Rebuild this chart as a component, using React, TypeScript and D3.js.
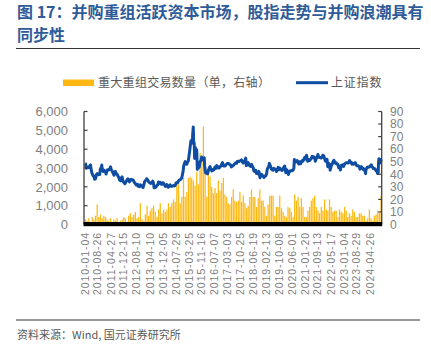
import React from "react";
import * as d3 from "d3";

// ---- data ----
const xTickLabels = [
  "2010-01-04","2010-08-26","2011-04-27","2011-12-15","2012-08-10","2013-04-10",
  "2013-12-05","2014-07-29","2015-03-25","2015-11-16","2016-07-07","2017-03-03",
  "2017-10-25","2018-06-19","2019-02-13","2019-10-08","2020-06-01","2021-01-20",
  "2021-09-13","2022-05-17","2023-01-04","2023-08-29","2024-04-26",
];
const leftTicks = [0, 1000, 2000, 3000, 4000, 5000, 6000];
const rightTicks = [0, 10, 20, 30, 40, 50, 60, 70, 80, 90];

// monthly count of major restructuring deals, from 2010-01
const dealStartMonth = "2010-01";
const dealCounts = [
  4, 3, 5, 2, 6, 4, 7, 16, 6, 8, 5, 7, // 2010
  6, 4, 3, 5, 2, 4, 3, 5, 2, 3, 4, 6, // 2011
  5, 2, 7, 9, 6, 8, 10, 5, 6, 17, 4, 3, // 2012
  8, 15, 7, 11, 13, 15, 10, 6, 12, 17, 9, 12, // 2013
  10, 12, 17, 14, 17, 20, 18, 33, 32, 17, 22, 37, // 2014
  22, 26, 37, 38, 37, 35, 31, 42, 32, 57, 51, 78, // 2015
  46, 22, 42, 38, 30, 25, 29, 25, 35, 27, 33, 37, // 2016
  24, 22, 17, 16, 22, 28, 19, 18, 19, 26, 18, 23, // 2017
  17, 13, 15, 22, 28, 22, 22, 14, 21, 28, 19, 19, // 2018
  14, 7, 16, 23, 23, 23, 7, 14, 14, 23, 13, 10, // 2019
  7, 6, 14, 13, 10, 6, 24, 19, 22, 14, 21, 14, // 2020
  6, 6, 11, 14, 19, 21, 23, 14, 11, 9, 14, 11, // 2021
  20, 12, 11, 20, 14, 10, 11, 11, 6, 12, 10, 9, // 2022
  14, 11, 6, 9, 7, 12, 10, 6, 6, 9, 9, 7, // 2023
  7, 3, 5, 12, 5, 3, 7, 8, 11, 9, 23, // 2024
];

// Shanghai Composite Index
const sseDates = [
  "2010-01-04","2010-01-15","2010-01-29","2010-02-12","2010-02-26","2010-03-15","2010-03-31","2010-04-15","2010-04-30","2010-05-14","2010-05-31","2010-06-15","2010-06-30","2010-07-15","2010-07-30","2010-08-16","2010-08-31","2010-09-15","2010-09-30","2010-10-15","2010-10-29","2010-11-08","2010-11-16","2010-11-30","2010-12-15","2010-12-31",
  "2011-01-14","2011-01-25","2011-02-15","2011-02-28","2011-03-15","2011-03-31","2011-04-18","2011-04-29","2011-05-16","2011-05-31","2011-06-20","2011-06-30","2011-07-15","2011-07-29","2011-08-15","2011-08-31","2011-09-15","2011-09-30","2011-10-21","2011-10-31","2011-11-15","2011-11-30","2011-12-15","2011-12-30",
  "2012-01-06","2012-01-31","2012-02-15","2012-02-29","2012-03-15","2012-03-30","2012-04-16","2012-04-27","2012-05-15","2012-05-31","2012-06-15","2012-06-29","2012-07-16","2012-07-31","2012-08-15","2012-08-31","2012-09-14","2012-09-26","2012-10-15","2012-10-31","2012-11-15","2012-12-03","2012-12-14","2012-12-31",
  "2013-01-15","2013-01-31","2013-02-08","2013-02-28","2013-03-15","2013-03-29","2013-04-15","2013-04-26","2013-05-15","2013-05-31","2013-06-14","2013-06-25","2013-07-08","2013-07-31","2013-08-15","2013-08-30","2013-09-12","2013-09-30","2013-10-15","2013-10-31","2013-11-15","2013-11-29","2013-12-13","2013-12-31",
  "2014-01-15","2014-01-30","2014-02-14","2014-02-28","2014-03-12","2014-03-31","2014-04-15","2014-04-30","2014-05-15","2014-05-30","2014-06-16","2014-06-30","2014-07-15","2014-07-31","2014-08-15","2014-08-29","2014-09-15","2014-09-30","2014-10-15","2014-10-31","2014-11-14","2014-11-28","2014-12-09","2014-12-19","2014-12-31",
  "2015-01-15","2015-01-30","2015-02-13","2015-02-27","2015-03-13","2015-03-31","2015-04-15","2015-04-30","2015-05-15","2015-05-29","2015-06-12","2015-06-19","2015-06-30","2015-07-08","2015-07-15","2015-07-24","2015-07-31","2015-08-14","2015-08-26","2015-08-31","2015-09-15","2015-09-30","2015-10-15","2015-10-30","2015-11-13","2015-11-30","2015-12-14","2015-12-31",
  "2016-01-07","2016-01-15","2016-01-27","2016-02-15","2016-02-29","2016-03-15","2016-03-31","2016-04-15","2016-04-29","2016-05-16","2016-05-31","2016-06-15","2016-06-30","2016-07-15","2016-07-29","2016-08-15","2016-08-31","2016-09-14","2016-09-30","2016-10-14","2016-10-31","2016-11-15","2016-11-29","2016-12-15","2016-12-30",
  "2017-01-16","2017-01-26","2017-02-15","2017-02-28","2017-03-15","2017-03-31","2017-04-14","2017-04-28","2017-05-11","2017-05-31","2017-06-15","2017-06-30","2017-07-14","2017-07-31","2017-08-15","2017-08-31","2017-09-15","2017-09-29","2017-10-16","2017-10-31","2017-11-14","2017-11-30","2017-12-15","2017-12-29",
  "2018-01-15","2018-01-29","2018-02-09","2018-02-28","2018-03-15","2018-03-30","2018-04-16","2018-04-27","2018-05-15","2018-05-31","2018-06-15","2018-06-29","2018-07-16","2018-07-31","2018-08-15","2018-08-31","2018-09-14","2018-09-28","2018-10-18","2018-10-31","2018-11-15","2018-11-30","2018-12-14","2018-12-28",
  "2019-01-04","2019-01-15","2019-01-31","2019-02-15","2019-02-28","2019-03-15","2019-03-29","2019-04-08","2019-04-30","2019-05-15","2019-05-31","2019-06-14","2019-06-28","2019-07-15","2019-07-31","2019-08-15","2019-08-30","2019-09-16","2019-09-30","2019-10-15","2019-10-31","2019-11-15","2019-11-29","2019-12-13","2019-12-31",
  "2020-01-14","2020-02-03","2020-02-14","2020-02-28","2020-03-16","2020-03-23","2020-03-31","2020-04-15","2020-04-30","2020-05-15","2020-05-29","2020-06-15","2020-06-30","2020-07-09","2020-07-15","2020-07-31","2020-08-14","2020-08-31","2020-09-15","2020-09-30","2020-10-15","2020-10-30","2020-11-13","2020-11-30","2020-12-15","2020-12-31",
  "2021-01-15","2021-01-29","2021-02-18","2021-02-26","2021-03-09","2021-03-31","2021-04-15","2021-04-30","2021-05-14","2021-05-31","2021-06-15","2021-06-30","2021-07-15","2021-07-28","2021-08-16","2021-08-31","2021-09-13","2021-09-30","2021-10-15","2021-10-29","2021-11-15","2021-11-30","2021-12-13","2021-12-31",
  "2022-01-14","2022-01-28","2022-02-15","2022-02-28","2022-03-15","2022-03-31","2022-04-15","2022-04-26","2022-05-13","2022-05-31","2022-06-15","2022-06-30","2022-07-05","2022-07-29","2022-08-15","2022-08-31","2022-09-15","2022-09-30","2022-10-14","2022-10-31","2022-11-15","2022-11-30","2022-12-15","2022-12-30",
  "2023-01-13","2023-01-31","2023-02-15","2023-02-28","2023-03-15","2023-03-31","2023-04-18","2023-04-28","2023-05-15","2023-05-31","2023-06-15","2023-06-30","2023-07-14","2023-07-31","2023-08-15","2023-08-31","2023-09-15","2023-09-28","2023-10-16","2023-10-23","2023-10-31","2023-11-15","2023-11-30","2023-12-15","2023-12-29",
  "2024-01-15","2024-01-31","2024-02-05","2024-02-09","2024-02-29","2024-03-15","2024-03-29","2024-04-15","2024-04-30","2024-05-20","2024-05-31","2024-06-14","2024-06-28","2024-07-15","2024-07-31","2024-08-15","2024-08-30","2024-09-13","2024-09-23","2024-09-30","2024-10-08","2024-10-18","2024-10-31","2024-11-08","2024-11-15","2024-11-29",
];
const sseValues = [
  3243,3224,2989,3018,3051,3020,3109,3166,2870,2697,2592,2570,2398,2425,2637,2700,2638,2650,2655,2972,2978,3159,2894,2820,2895,2808,
  2791,2677,2900,2905,2896,2928,3057,2911,2843,2743,2621,2762,2820,2701,2680,2567,2500,2359,2317,2468,2529,2333,2229,2199,
  2163,2292,2366,2428,2384,2262,2357,2396,2374,2373,2306,2225,2170,2103,2131,2047,2102,2004,2105,2069,2030,1959,2051,2269,
  2329,2385,2432,2366,2278,2237,2194,2177,2232,2301,2162,1950,1959,1994,2081,2098,2255,2175,2233,2142,2135,2220,2196,2116,
  2024,2033,2115,2056,1975,2033,2105,2026,2025,2039,2071,2048,2065,2201,2226,2217,2315,2363,2374,2420,2478,2683,2856,3108,3235,
  3336,3210,3203,3310,3373,3748,4084,4441,4308,4611,5178,4478,4277,3507,3805,4070,3663,3965,2927,3205,3005,3053,3338,3382,3580,3445,3520,3539,
  3125,2901,2735,2746,2688,2864,3003,3078,2938,2850,2917,2887,2930,3054,2979,3125,3085,3003,3005,3063,3100,3207,3282,3118,3104,
  3103,3159,3212,3242,3241,3223,3177,3155,3061,3117,3132,3192,3222,3273,3251,3360,3353,3349,3378,3393,3430,3317,3266,3307,
  3410,3523,3129,3259,3291,3169,3111,3082,3192,3095,3022,2847,2814,2876,2705,2725,2682,2821,2486,2603,2668,2588,2593,2494,
  2514,2570,2585,2682,2941,3021,3091,3245,3078,2938,2899,2882,2979,2943,2932,2815,2886,3031,2905,2992,2929,2891,2871,2968,3050,
  3106,2746,2917,2880,2789,2660,2750,2811,2860,2868,2852,2890,2985,3450,3361,3310,3360,3395,3295,3218,3332,3225,3310,3392,3367,3473,
  3566,3483,3675,3509,3360,3442,3399,3447,3490,3615,3556,3591,3564,3362,3518,3544,3715,3568,3572,3547,3533,3564,3681,3640,
  3521,3361,3446,3462,3064,3252,3211,2886,3084,3186,3305,3398,3405,3253,3276,3202,3199,3024,3071,2893,3134,3151,3168,3089,
  3195,3255,3280,3280,3263,3273,3393,3323,3311,3205,3253,3202,3237,3291,3176,3120,3117,3110,3073,2939,3018,3073,3030,2942,2975,
  2887,2789,2702,2865,3015,3054,3041,3057,3105,3171,3087,3033,2967,2975,2939,2850,2842,2704,2748,3336,3489,3261,3280,3452,3330,3326,
];

const title1 = "图 17：并购重组活跃资本市场，股指走势与并购浪潮具有";
const title2 = "同步性";
const legendBar = "重大重组交易数量（单，右轴）";
const legendLine = "上证指数";
const source = "资料来源：Wind, 国元证券研究所";

const BAR_COLOR = "#FDB813";
const LINE_COLOR = "#0E4DA1";
const GRAY = "#808080";
const LATIN = "'Liberation Sans', Arial, sans-serif";
const CJK = "'Noto Sans CJK SC', 'Noto Sans', sans-serif";

export default function App() {
  const W = 431, H = 351;
  const left = 84, right = 381.7, top = 111.5, bottom = 224.5;
  const parse = d3.timeParse("%Y-%m-%d");
  const x = d3.scaleTime()
    .domain([parse("2010-01-04")!, parse("2024-04-26")!])
    .range([85, 370]);
  const yL = d3.scaleLinear().domain([0, 6000]).range([bottom, top]);
  const yR = d3.scaleLinear().domain([0, 90]).range([bottom, top]);

  const startMonth = d3.timeParse("%Y-%m")(dealStartMonth)!;
  const bars = dealCounts.map((v, i) => {
    const m = d3.timeMonth.offset(startMonth, i);
    return { date: new Date(m.getFullYear(), m.getMonth(), 15), v };
  });
  const pts = sseDates.map((d, i) => ({ date: parse(d)!, v: sseValues[i] }));
  const line = d3.line<{ date: Date; v: number }>()
    .x((d) => x(d.date))
    .y((d) => yL(d.v))
    .curve(d3.curveLinear);

  const bw = 1.25;

  return (
    <svg width={W} height={H} style={{ position: "absolute", left: 0, top: 0, background: "#fff" }}>
      <rect width={W} height={H} fill="#fff" />
      {/* title */}
      <text x={17} y={17.5} fontFamily={CJK} fontWeight={700} fontSize={16} fill="#2f5c99">{title1}</text>
      <text x={17} y={40.5} fontFamily={CJK} fontWeight={700} fontSize={16} fill="#2f5c99">{title2}</text>
      <line x1={16} x2={420} y1={48.5} y2={48.5} stroke="#333" strokeWidth={1.2} />

      {/* legend */}
      <rect x={63} y={79.5} width={31} height={6.5} fill={BAR_COLOR} />
      <text x={98} y={87} fontFamily={CJK} fontSize={12} fill="#595959" letterSpacing={0.3}>{legendBar}</text>
      <line x1={296} x2={328} y1={82.7} y2={82.7} stroke={LINE_COLOR} strokeWidth={3} />
      <text x={331} y={87} fontFamily={CJK} fontSize={12} fill="#595959" letterSpacing={0.8}>{legendLine}</text>

      {/* bars */}
      {bars.map((b, i) => (
        <rect key={i} x={x(b.date) - bw / 2} y={yR(b.v)} width={bw} height={bottom - yR(b.v)} fill={BAR_COLOR} />
      ))}

      {/* index line */}
      <path d={line(pts) || ""} fill="none" stroke={LINE_COLOR} strokeWidth={3} strokeLinejoin="round" />

      {/* axes */}
      <line x1={left} x2={left} y1={top} y2={bottom} stroke="#404040" strokeWidth={1.3} />
      {leftTicks.map((t) => (
        <g key={t}>
          <line x1={left} x2={left + 3.5} y1={yL(t)} y2={yL(t)} stroke="#404040" strokeWidth={1.2} />
          <text x={68} y={yL(t)} dy="0.36em" textAnchor="end" fontFamily={LATIN} fontSize={13} fill={GRAY}>
            {d3.format(",")(t)}
          </text>
        </g>
      ))}
      <line x1={right} x2={right} y1={top} y2={bottom} stroke="#404040" strokeWidth={1.3} />
      {rightTicks.map((t) => (
        <g key={t}>
          <line x1={right - 3.5} x2={right} y1={yR(t)} y2={yR(t)} stroke="#404040" strokeWidth={1.2} />
          <text x={390} y={yR(t)} dy="0.36em" textAnchor="start" fontFamily={LATIN} fontSize={12} fill={GRAY}>
            {t}
          </text>
        </g>
      ))}
      <rect x={left - 0.5} y={222} width={right - left + 1} height={4.2} fill="#000" />

      {/* x labels */}
      {xTickLabels.map((s) => {
        const px = x(parse(s)!);
        return (
          <text key={s} transform={`translate(${px + 3.6},233) rotate(-90)`} textAnchor="end"
            fontFamily={LATIN} fontSize={10.5} fill={GRAY} textLength={62} lengthAdjust="spacing">
            {s}
          </text>
        );
      })}

      {/* footer */}
      <line x1={16} x2={420} y1={320} y2={320} stroke="#333" strokeWidth={1.2} />
      <text x={17} y={339} fontFamily={CJK} fontSize={11} fill="#595959">{source}</text>
    </svg>
  );
}
